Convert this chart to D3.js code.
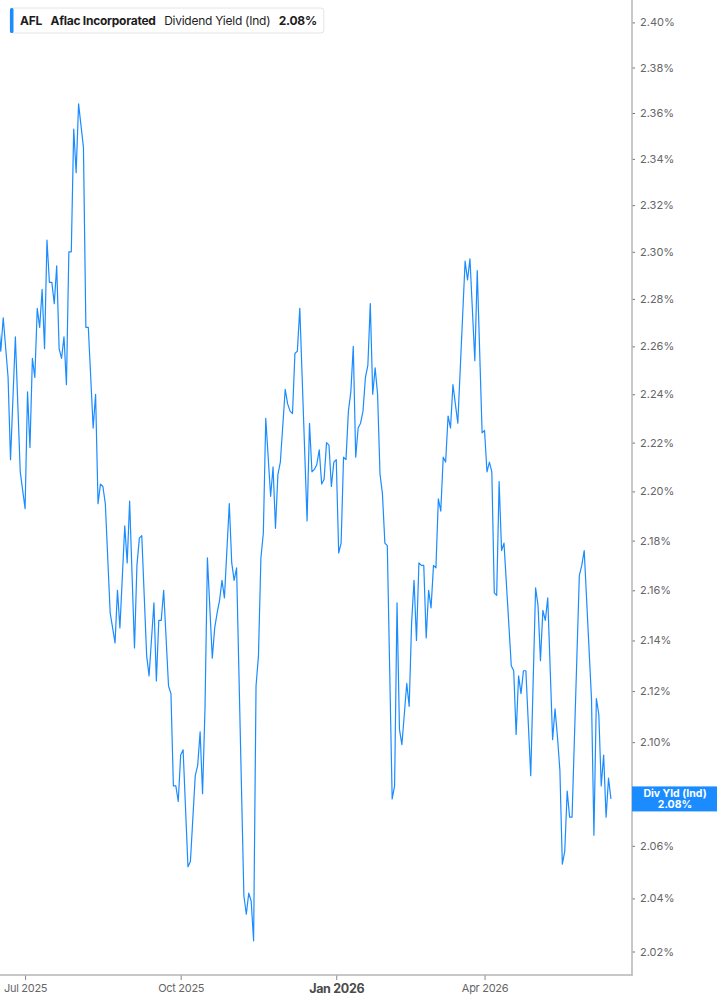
<!DOCTYPE html>
<html>
<head>
<meta charset="utf-8">
<script src="https://cdn.jsdelivr.net/npm/d3@7"></script>
<style>
    body { margin: 0; background: #fff; }
    svg { display: block; font-family: Inter, "Noto Sans", sans-serif; }
</style>
</head>
<body>
<svg id="svg_main"></svg>
<script>
// trading-day number (0 = first session shown) and the yield read for that session
const tradingDay = [
    0, 1, 2, 4, 5, 7, 9, 11, 12, 13, 14, 15, 16, 17, 18, 19, 20, 21, 22, 23, 24, 25, 26, 27, 28, 29, 30,
    31, 32, 33, 35, 36, 37, 39, 40, 41, 42, 43, 44, 46, 48, 49, 50, 52, 53, 54, 56, 57, 58, 59, 61, 62,
    64, 65, 66, 67, 68, 70, 71, 72, 73, 74, 75, 76, 78, 79, 81, 82, 83, 84, 85, 86, 88, 89, 90, 91, 92,
    93, 95, 96, 97, 98, 101, 102, 103, 104, 105, 106, 107, 108, 109, 110, 112, 113, 114, 115, 116, 118,
    119, 120, 121, 122, 123, 124, 127, 128, 129, 130, 131, 132, 133, 134, 135, 136, 137, 138, 139, 140,
    141, 142, 143, 144, 145, 146, 147, 148, 149, 150, 151, 152, 153, 154, 155, 156, 157, 158, 159, 160,
    162, 163, 164, 165, 166, 168, 169, 170, 171, 172, 173, 174, 175, 176, 177, 178, 179, 180, 181, 182,
    183, 184, 185, 186, 187, 189, 192, 193, 194, 196, 197, 199, 200, 201, 202, 203, 204, 205, 206, 207,
    208, 211, 212, 213, 214, 215, 216, 217, 219, 221, 222, 223, 224, 225, 226, 228, 229, 230, 231, 232,
    233, 234, 235, 236, 239, 240, 241, 244, 245, 246, 247, 248, 249, 250, 251, 252
];
const divYield = [
    2.272, 2.258, 2.272, 2.247, 2.213, 2.264, 2.208, 2.193, 2.241, 2.218, 2.255, 2.247, 2.276, 2.268, 2.284, 2.259, 2.305, 2.287, 2.287, 2.278, 2.294, 2.259, 2.255, 2.264, 2.244, 2.300, 2.300,
    2.353, 2.334, 2.364, 2.345, 2.268, 2.268, 2.226, 2.240, 2.195, 2.203, 2.202, 2.195, 2.151, 2.139, 2.160, 2.145, 2.186, 2.171, 2.196, 2.137, 2.170, 2.181, 2.182, 2.134, 2.126,
    2.155, 2.124, 2.148, 2.148, 2.160, 2.122, 2.119, 2.083, 2.083, 2.077, 2.095, 2.097, 2.052, 2.054, 2.087, 2.091, 2.104, 2.080, 2.113, 2.173, 2.133, 2.145, 2.151, 2.156, 2.164,
    2.157, 2.195, 2.171, 2.164, 2.169, 2.041, 2.034, 2.042, 2.039, 2.024, 2.122, 2.134, 2.173, 2.183, 2.230, 2.198, 2.210, 2.185, 2.207, 2.212, 2.242,
    2.236, 2.233, 2.232, 2.257, 2.258, 2.276, 2.188, 2.228, 2.208, 2.209, 2.211, 2.217, 2.203, 2.205, 2.220, 2.219, 2.202, 2.212, 2.213, 2.175,
    2.179, 2.214, 2.213, 2.233, 2.241, 2.260, 2.214, 2.226, 2.228, 2.233, 2.247, 2.252, 2.278, 2.240, 2.251, 2.240, 2.207, 2.199, 2.179, 2.178,
    2.078, 2.083, 2.155, 2.105, 2.099, 2.123, 2.114, 2.147, 2.164, 2.140, 2.171, 2.170, 2.170, 2.141, 2.160, 2.153, 2.170, 2.169, 2.197, 2.192,
    2.214, 2.212, 2.231, 2.226, 2.244, 2.228, 2.296, 2.288, 2.297, 2.254, 2.292, 2.224, 2.225, 2.208, 2.212, 2.208, 2.159, 2.158, 2.204, 2.176,
    2.179, 2.130, 2.128, 2.103, 2.126, 2.119, 2.128, 2.128, 2.087, 2.161, 2.154, 2.132, 2.152, 2.148, 2.157, 2.101, 2.113, 2.102, 2.089, 2.053,
    2.058, 2.081, 2.071, 2.071, 2.166, 2.170, 2.176, 2.117, 2.064, 2.117, 2.111, 2.083, 2.095, 2.071, 2.086, 2.078
];

const yTicks = [2.02, 2.04, 2.06, 2.08, 2.10, 2.12, 2.14, 2.16, 2.18, 2.20,
    2.22, 2.24, 2.26, 2.28, 2.30, 2.32, 2.34, 2.36, 2.38, 2.40];
// first session of each quarter
const xTickDay = [11, 75, 139, 200];
const xTickLabel = ['Jul 2025', 'Oct 2025', 'Jan 2026', 'Apr 2026'];

const ticker = 'AFL';
const company = 'Aflac Incorporated';
const metric = 'Dividend Yield (Ind)';
const metricShort = 'Div Yld (Ind)';

const width = 717, height = 1005;
const chart = drawChart('#svg_main', {width, height});
chart.draw(tradingDay.map((day, i) => ({day, v: divYield[i]})));


function drawChart(divID, {width, height}) {
    const plotRight = 632, plotBottom = 975;
    const blue = '#1a8cff', axisGrey = '#b4b4b4';
    const fmt = d => d3.format('.2f')(d) + '%';

    const x = d3.scaleLinear().domain([0.675, 260.66]).range([0, plotRight]);
    const y = d3.scaleLog().domain([2.02, 2.40]).range([951.5, 22.4]);

    const svg = d3.select(divID)
        .attr('width', width)
        .attr('height', height)
        .attr('viewBox', [0, 0, width, height]);

    svg.append('clipPath').attr('id', 'plotClip')
        .append('rect')
        .attr('width', plotRight)
        .attr('height', plotBottom);

    const master = {};
    master.draw = (data) => {
        const last = data[data.length - 1];

        // y axis on the right; the tick hidden under the value tag is left out
        const shownTicks = yTicks.filter(t => Math.abs(y(t) - y(last.v)) > 14);
        const yAxis = svg.append('g')
            .attr('transform', `translate(${plotRight},0)`)
            .call(d3.axisRight(y).tickValues(shownTicks).tickSize(3).tickPadding(5).tickFormat(fmt));
        yAxis.select('.domain').remove();
        yAxis.selectAll('line').attr('stroke', '#777');
        yAxis.selectAll('text')
            .attr('fill', '#666')
            .attr('font-size', 11)
            .attr('font-family', 'Inter, sans-serif');

        // x axis
        const xAxis = svg.append('g')
            .attr('transform', `translate(0,${plotBottom})`)
            .call(d3.axisBottom(x).tickValues(xTickDay).tickSize(5).tickPadding(4)
                .tickFormat((d, i) => xTickLabel[i]));
        xAxis.select('.domain').remove();
        xAxis.selectAll('line').attr('stroke', '#888');
        xAxis.selectAll('text')
            .attr('fill', '#666')
            .attr('font-size', 11)
            .attr('font-family', 'Inter, sans-serif')
            .attr('letter-spacing', -0.3);
        xAxis.selectAll('text')
            .filter(d => xTickLabel[xTickDay.indexOf(d)].startsWith('Jan'))
            .attr('font-weight', 700)
            .attr('font-size', 12.5)
            .attr('fill', '#4a4a4a');

        // frame lines
        svg.append('line')
            .attr('x1', plotRight).attr('x2', plotRight)
            .attr('y1', 0).attr('y2', plotBottom + 0.5)
            .attr('stroke', axisGrey).attr('stroke-width', 1.5);
        svg.append('line')
            .attr('x1', 0).attr('x2', plotRight + 0.75)
            .attr('y1', plotBottom).attr('y2', plotBottom)
            .attr('stroke', axisGrey).attr('stroke-width', 1.5);

        // the yield line
        const line = d3.line().x(d => x(d.day)).y(d => y(d.v));
        svg.append('path')
            .datum(data)
            .attr('clip-path', 'url(#plotClip)')
            .attr('fill', 'none')
            .attr('stroke', blue)
            .attr('stroke-width', 1.2)
            .attr('stroke-linejoin', 'round')
            .attr('d', line);

        // last value tag
        const tag = svg.append('g')
            .attr('transform', `translate(${plotRight},${y(last.v)})`);
        tag.append('rect')
            .attr('x', 0).attr('y', -12.5)
            .attr('width', width - plotRight).attr('height', 25)
            .attr('fill', blue);
        tag.selectAll('text')
            .data([metricShort, fmt(last.v)])
            .join('text')
            .attr('x', (width - plotRight) / 2 + 0.5)
            .attr('y', (d, i) => i === 0 ? -5.5 : 5.5)
            .attr('dy', '0.35em')
            .attr('text-anchor', 'middle')
            .attr('fill', '#fff')
            .attr('font-size', 10.5)
            .attr('font-weight', 700)
            .text(d => d);

        // legend box
        const legend = svg.append('g').attr('transform', 'translate(10,8)');
        const box = legend.append('rect')
            .attr('height', 25).attr('rx', 3)
            .attr('fill', '#fff')
            .attr('stroke', '#e4e4e4');
        legend.append('rect')
            .attr('width', 3.5).attr('height', 25).attr('rx', 1.5)
            .attr('fill', blue);
        const parts = [
            {t: ticker, w: 700},
            {t: company, w: 700},
            {t: metric, w: 400},
            {t: fmt(last.v), w: 700}
        ];
        let cx = 10;
        parts.forEach(p => {
            const t = legend.append('text')
                .attr('x', cx).attr('y', 12.5).attr('dy', '0.35em')
                .attr('font-size', 12)
                .attr('font-weight', p.w)
                .attr('fill', '#1d1d1d')
                .attr('letter-spacing', -0.25)
                .text(p.t);
            cx += t.node().getComputedTextLength() + 8.5;
        });
        box.attr('width', cx - 1.5);
    };
    return master;
}
</script>
</body>
</html>
